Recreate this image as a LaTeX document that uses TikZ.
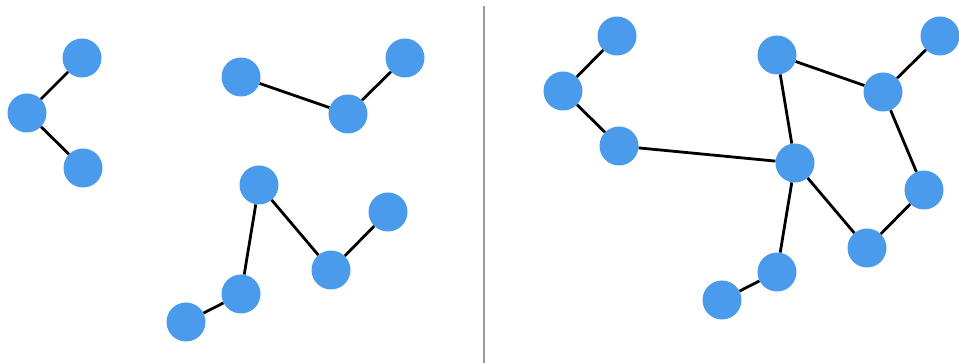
\documentclass[tikz,border=0pt]{standalone}
\begin{document}
\begin{tikzpicture}[x=1pt,y=-1pt,
  vtx/.style={circle,fill=nodeblue,minimum size=39pt,inner sep=0pt},
  edge/.style={line width=2.8pt,black}]
\definecolor{nodeblue}{HTML}{4A9BEB}
\useasboundingbox (0,0) rectangle (959,363);
\draw[line width=2pt,color=black!40] (483.7,6) coordinate (t) -- (483.7,363) coordinate (b);
% left group
\node[vtx] (a1) at (82,58) {};
\node[vtx] (a2) at (27,113) {};
\node[vtx] (a3) at (83,168) {};
\node[vtx] (b1) at (241,77) {};
\node[vtx] (b2) at (348,114) {};
\node[vtx] (b3) at (405,58) {};
\node[vtx] (c1) at (259,185) {};
\node[vtx] (c2) at (331,270) {};
\node[vtx] (c3) at (388,212) {};
\node[vtx] (c4) at (241,294) {};
\node[vtx] (c5) at (186,322) {};
% right group
\node[vtx] (d1) at (617,36) {};
\node[vtx] (d2) at (563,91) {};
\node[vtx] (d3) at (619,146) {};
\node[vtx] (d4) at (777,55) {};
\node[vtx] (d5) at (883,92) {};
\node[vtx] (d6) at (940,36) {};
\node[vtx] (d7) at (795,163) {};
\node[vtx] (d8) at (924,190) {};
\node[vtx] (d9) at (867,248) {};
\node[vtx] (d10) at (777,272) {};
\node[vtx] (d11) at (722,300) {};
\draw[edge] (a1) -- (a2);
\draw[edge] (a2) -- (a3);
\draw[edge] (b1) -- (b2);
\draw[edge] (b2) -- (b3);
\draw[edge] (c1) -- (c2);
\draw[edge] (c2) -- (c3);
\draw[edge] (c1) -- (c4);
\draw[edge] (c4) -- (c5);
\draw[edge] (d1) -- (d2);
\draw[edge] (d2) -- (d3);
\draw[edge] (d3) -- (d7);
\draw[edge] (d4) -- (d5);
\draw[edge] (d5) -- (d6);
\draw[edge] (d4) -- (d7);
\draw[edge] (d5) -- (d8);
\draw[edge] (d8) -- (d9);
\draw[edge] (d9) -- (d7);
\draw[edge] (d7) -- (d10);
\draw[edge] (d10) -- (d11);
\end{tikzpicture}
\end{document}
